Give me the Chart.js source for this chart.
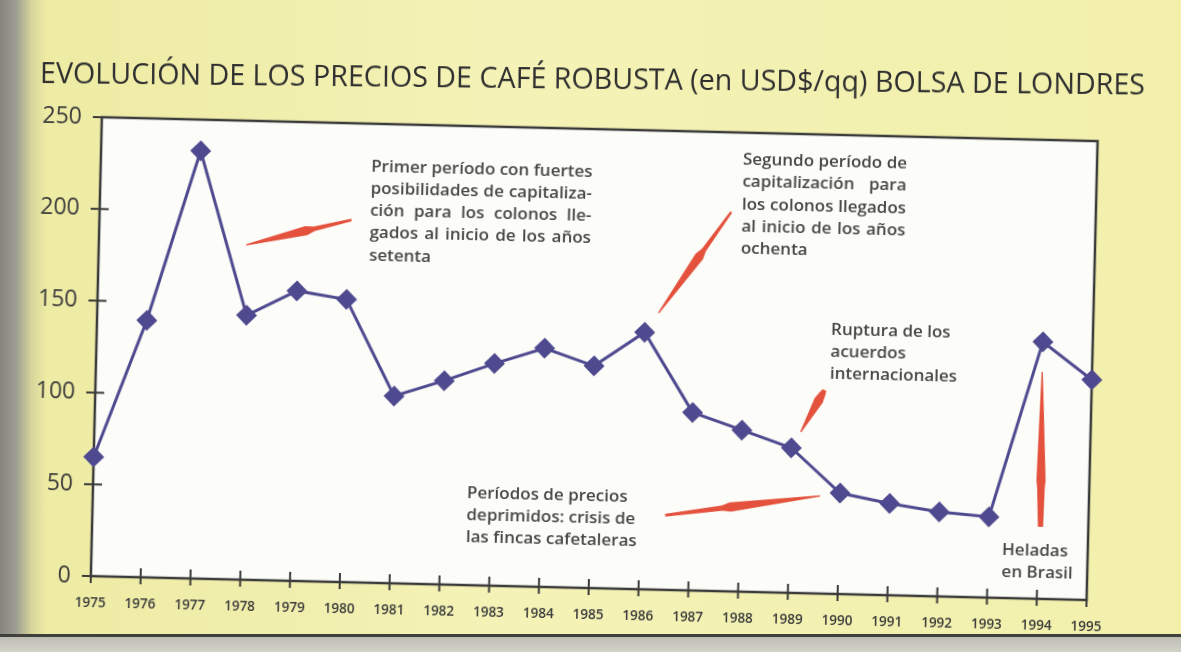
<!DOCTYPE html>
<html>
<head>
<meta charset="utf-8">
<script src="https://cdn.jsdelivr.net/npm/chart.js@4.4.1/dist/chart.umd.min.js"></script>
<style>
html,body{margin:0;padding:0;}
body{width:1181px;height:652px;overflow:hidden;position:relative;
  background:
    linear-gradient(to bottom,transparent 0,transparent 634px,#3f3f3b 634px,#3f3f3b 637px,#bdbdb3 637px,#d2d2c8 652px),
    linear-gradient(to right,#85857f 0,#9d9d92 16px,#d9d69c 32px,#eeeba4 46px,#f4f2b6 500px,#f2f0ab 1181px);}
#wrap{position:absolute;left:0;top:0;width:1181px;height:652px;transform:rotate(1.375deg);transform-origin:590px 326px;}
#title{position:absolute;left:40px;top:54px;margin:0;white-space:nowrap;
  font:normal 30px/36px "Open Sans","DejaVu Sans",sans-serif;color:#2f2f2f;
  transform:rotate(0.6deg) scaleX(0.955);transform-origin:0 50%;}
</style>
</head>
<body>
<div id="wrap"><canvas id="chart" width="1181" height="652"></canvas></div>
<h1 id="title">EVOLUCIÓN DE LOS PRECIOS DE CAFÉ ROBUSTA (en USD$/qq) BOLSA DE LONDRES</h1>
<script>
// Robusta, London exchange, USD per quintal
const years=["1975","1976","1977","1978","1979","1980","1981","1982","1983","1984","1985","1986","1987","1988","1989","1990","1991","1992","1993","1994","1995"];
const prices=[65,140,233,144,158,154,102,111,121,130,121,140,97,88,79,55,50,46,44,140,120];
const yTicks=[0,50,100,150,200,250];

// notes: at = [year index, price] of first line, left edge
const notes=[
  {at:[5.43,226.6],justify:true,lines:["Primer período con fuertes","posibilidades de capitaliza-","ción para los colonos lle-","gados al inicio de los años","setenta"]},
  {at:[12.89,235.1],justify:true,lines:["Segundo período de","capitalización para","los colonos llegados","al inicio de los años","ochenta"]},
  {at:[14.74,143.7],lines:["Ruptura de los","acuerdos","internacionales"]},
  {at:[7.51,50.2],lines:["Períodos de precios","deprimidos: crisis de","las fincas cafetaleras"]},
  {at:[18.28,26.1],lines:["Heladas","en Brasil"]}
];
// arrows: tail -> tip; head = widest point (0..1 from tail), tail = half width at the tail end
const arrows=[
  {from:[5.06,197.3],to:[2.96,182.4],head:0.43,tail:1.2},
  {from:[12.68,206.6],to:[11.27,150.7],head:0.44,tail:1.2},
  {from:[14.64,110.9],to:[14.18,87.7],head:0.25,tail:2},
  {from:[11.5,40.7],to:[14.6,53.2],head:0.42,tail:1.4},
  {from:[19.04,39.2],to:[19.0,123.6],head:0.3,tail:2.6}
];

const INK="#3b3b3b", LINE="#4f4a8f", RED="#e4513c";
const FONT='"Open Sans", "DejaVu Sans", sans-serif';

const framePlugin={
  id:"frame",
  beforeDraw(c){
    const {ctx,chartArea:a}=c;
    ctx.save(); ctx.fillStyle="#fcfcf8"; ctx.fillRect(a.left,a.top,a.right-a.left,a.bottom-a.top); ctx.restore();
  },
  beforeDatasetsDraw(c){
    const {ctx,chartArea:a,scales:{x,y}}=c;
    ctx.save();
    ctx.strokeStyle=INK; ctx.lineWidth=2.5;
    ctx.strokeRect(a.left,a.top,a.right-a.left,a.bottom-a.top);
    // cross ticks on both axes
    ctx.lineWidth=2;
    ctx.beginPath();
    x.ticks.forEach((t,i)=>{const px=x.getPixelForTick(i); ctx.moveTo(px,a.bottom-9); ctx.lineTo(px,a.bottom+7);});
    y.ticks.forEach((t,i)=>{const py=y.getPixelForTick(i); ctx.moveTo(a.left-9,py); ctx.lineTo(a.left+9,py);});
    ctx.stroke();
    ctx.restore();
  },
  afterDatasetsDraw(c){
    const {ctx,scales:{x,y}}=c;
    ctx.save();
    // red arrows
    ctx.fillStyle=RED;
    arrows.forEach(ar=>{
      const tx=x.getPixelForValue(ar.from[0]), ty=y.getPixelForValue(ar.from[1]);
      const px=x.getPixelForValue(ar.to[0]), py=y.getPixelForValue(ar.to[1]);
      const len=Math.hypot(px-tx,py-ty), dx=(px-tx)/len, dy=(py-ty)/len, nx=-dy, ny=dx;
      const bx=tx+(px-tx)*ar.head, by=ty+(py-ty)*ar.head, w=ar.tail;
      ctx.beginPath();
      ctx.moveTo(tx+nx*w,ty+ny*w);
      ctx.lineTo(bx-dx*8+nx*(w+1.2),by-dy*8+ny*(w+1.2));
      ctx.lineTo(bx+nx*4.6,by+ny*4.6);
      ctx.lineTo(px+nx*0.6,py+ny*0.6);
      ctx.lineTo(px-nx*0.6,py-ny*0.6);
      ctx.lineTo(bx-nx*4.6,by-ny*4.6);
      ctx.lineTo(bx-dx*8-nx*(w+1.2),by-dy*8-ny*(w+1.2));
      ctx.lineTo(tx-nx*w,ty-ny*w);
      ctx.closePath(); ctx.fill();
    });
    // notes
    ctx.font='600 17px '+FONT; ctx.fillStyle="#474747"; ctx.textBaseline="middle";
    notes.forEach(n=>{
      const x0=x.getPixelForValue(n.at[0]), y0=y.getPixelForValue(n.at[1]);
      const full=Math.max(...n.lines.slice(0,-1).map(l=>ctx.measureText(l).width));
      n.lines.forEach((l,i)=>{
        const ly=y0+i*22.2;
        if(!n.justify||i===n.lines.length-1){ctx.fillText(l,x0,ly); return;}
        const words=l.split(" "), ww=words.map(w=>ctx.measureText(w).width);
        const gap=(full-ww.reduce((a,b)=>a+b,0))/(words.length-1);
        let cx=x0;
        words.forEach((w,j)=>{ctx.fillText(w,cx,ly); cx+=ww[j]+gap;});
      });
    });
    ctx.restore();
  }
};

new Chart(document.getElementById("chart"),{
  type:"line",
  data:{labels:years,datasets:[{
    data:prices,borderColor:LINE,borderWidth:3,backgroundColor:LINE,
    pointStyle:"rectRot",pointRadius:10.5,pointBorderWidth:0,tension:0,clip:false
  }]},
  options:{
    responsive:false,animation:false,events:[],
    layout:{padding:{left:0,right:88,top:129,bottom:0}},
    plugins:{legend:{display:false},tooltip:{enabled:false},title:{display:false}},
    scales:{
      x:{
        grid:{display:false,drawTicks:false},border:{display:false},
        ticks:{color:INK,font:{family:FONT,size:13.5,weight:"600"},padding:19,autoSkip:false,maxRotation:0},
        afterFit:s=>{s.height=64;}
      },
      y:{
        min:0,max:250,
        grid:{display:false,drawTicks:false},border:{display:false},
        afterBuildTicks:s=>{s.ticks=yTicks.map(v=>({value:v}));},
        ticks:{color:INK,font:{family:FONT,size:23},padding:20},
        afterFit:s=>{s.width=97;}
      }
    }
  },
  plugins:[framePlugin]
});
</script>
</body>
</html>
